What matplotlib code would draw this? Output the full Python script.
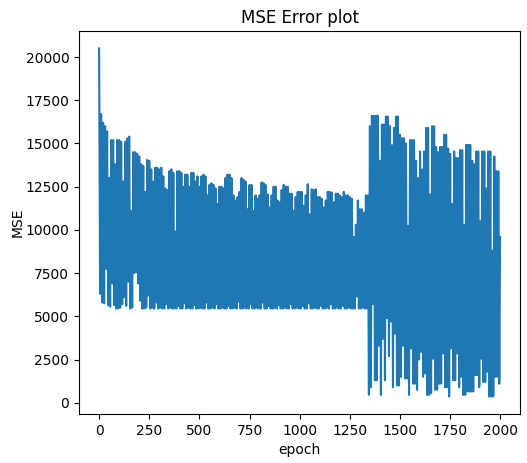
import numpy as np
import matplotlib
matplotlib.use("Agg")
import matplotlib.pyplot as plt

# Peak (upper) values read at epochs 0, 10, 20, ..., 1990
upper_peaks = [
    20500, 16700, 16200, 16000, 15700, 13000, 15200, 15200, 13800, 15200,
    15200, 15100, 12800, 15100, 15300, 15400, 11100, 14500, 14500, 14400,
    14250, 13800, 13700, 12200, 14050, 14000, 13500, 12800, 13600, 13600,
    13500, 13600, 13100, 12400, 12300, 13400, 13500, 13300, 9900, 13400,
    13400, 13300, 12500, 13200, 13200, 12500, 13300, 13300, 12800, 13100,
    12500, 13100, 13200, 13100, 12000, 12600, 12700, 12600, 12400, 11500,
    12500, 12500, 12400, 13000,
    # 640 ..
    13200, 13200, 13000, 12000, 11700, 11900, 12200, 13000, 12900, 12800,
    11200, 12600, 12600, 11100, 12000, 11800, 12000, 12750, 12700, 12600,
    12050, 11300, 12000, 12500, 12500, 11700, 11600, 12300, 12600, 12500,
    12500, 12100, 12100, 11100, 11900, 12200, 12200, 12200, 11400, 12000,
    12650, 10900, 12350, 12300, 12350, 11900, 11900, 11800, 11300, 11700,
    12200, 12200, 12150, 11600, 12100, 12100, 12000, 11900, 12200, 12000,
    12000, 11900, 11800, 9600, 10300, 11700, 11200, 11200, 11000, 12000,
    12000,
    # 1350 ..
    16000, 16600, 16600, 16600, 16600, 14000, 16100, 16100, 16560, 16560,
    16000, 14900, 15900, 16560, 16560, 15500, 15300, 15300, 15000, 10230,
    15200, 15200, 15200, 14000, 13000, 14540, 13500, 14540, 15900, 15900,
    12050, 16000, 16000, 14800, 14500, 14800, 14800, 15500, 15500, 14700,
    14400, 11500, 14540, 14160, 14160, 14620, 14620, 10300, 14920, 14920,
    14920, 14000, 13800, 14540, 14540, 10500, 14540, 14540, 12400, 14540,
    14540, 8800, 14250, 13400, 13400,
]

# Trough (lower) values read at epochs 5, 15, 25, ..., 1995
lower_troughs = [
    6300, 5800, 5750, 7750, 5650, 5550, 6900, 5650, 5450, 5450,
    5500, 5700, 6100, 5600, 7000, 5450, 5500, 7500, 7550, 6900,
    5900, 5450, 5450, 5500, 6200, 5450,
    # 265 ..
    5500, 5450, 5800, 5450, 5500, 5450, 5450, 5700, 5450, 5500, 5450, 5450,
    5450, 5600, 5450, 5450, 5750, 5450, 5500, 5450, 5450, 5650, 5450, 5450,
    5500, 5450, 5450, 5800, 5450, 5450, 5500, 5450, 5700, 5450, 5450, 5500,
    5450, 5450, 5600, 5450, 5450, 5500, 5450, 5850, 5450, 5450, 5500, 5450,
    5450, 5700, 5450, 5450, 5500, 5450, 5450, 5800, 5450, 5450, 5600, 5450,
    5450, 5500, 5450, 5650, 5450, 5450, 5500, 5450, 5450, 5700, 5450, 5450,
    5500, 5450, 5450, 5600, 5450, 5450, 5750, 5450, 5450, 5500, 5450, 5450,
    5600, 5450, 5450, 5500, 5450, 5700, 5450, 5450, 5500, 5450, 5450, 5600,
    5450, 5450, 5500, 5450, 5450, 5450, 6150, 5450, 5450, 5500, 5450, 5450,
    # 1345 ..
    460, 900, 5700, 1300, 1300, 3300, 450, 3700, 1300, 4900,
    2700, 4700, 900, 4000, 1000, 1000, 1500, 3300, 1400, 1400,
    450, 3150, 1100, 1100, 750, 2500, 2950, 1500, 1700, 450,
    450, 550, 2550, 750, 750, 1100, 1100, 2850, 900, 900,
    360, 3150, 1300, 1300, 2850, 900, 1500, 450, 450, 650,
    650, 650, 650, 1600, 1600, 900, 2550, 1200, 1200, 1800,
    360, 360, 360, 1500, 1500, 1100,
]

final_epoch = 1999
final_value = 9600

x_up = np.arange(len(upper_peaks)) * 10
x_lo = np.arange(len(lower_troughs)) * 10 + 5
x_all = np.concatenate([x_up, x_lo, [final_epoch]])
y_all = np.concatenate([upper_peaks, lower_troughs, [final_value]])
order = np.argsort(x_all, kind="stable")
epochs = x_all[order]
mse = y_all[order]

fig = plt.figure(figsize=(5.27, 4.63), dpi=100)
ax = fig.add_axes([0.150, 0.106, 0.837, 0.827])
ax.plot(epochs, mse, color="#1f77b4", linewidth=1.5)
ax.set_title("MSE Error plot")
ax.set_xlabel("epoch")
ax.set_ylabel("MSE", labelpad=0.5)
ax.set_xticks([0, 250, 500, 750, 1000, 1250, 1500, 1750, 2000])
ax.set_yticks([0, 2500, 5000, 7500, 10000, 12500, 15000, 17500, 20000])
fig.savefig("out.png", dpi=100)
